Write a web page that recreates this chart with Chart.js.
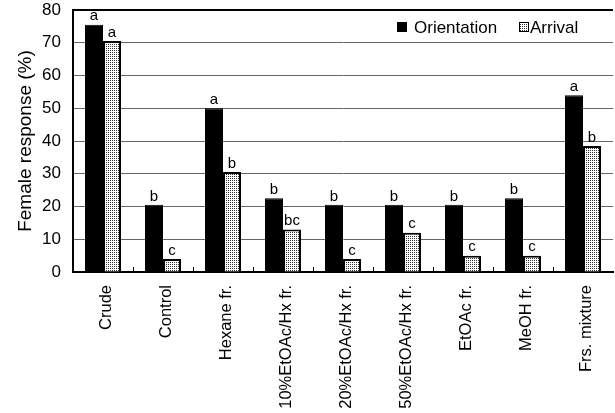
<!DOCTYPE html>
<html>
<head>
<meta charset="utf-8">
<script src="https://cdn.jsdelivr.net/npm/chart.js@4/dist/chart.umd.min.js"></script>
<style>
  html, body { margin: 0; padding: 0; background: #fff; }
  #wrap { width: 615px; height: 413px; }
</style>
</head>
<body>
<div id="wrap"><canvas id="c" width="615" height="413"></canvas></div>
<script>
// Treatments tested
const categories = ['Crude', 'Control', 'Hexane fr.', '10%EtOAc/Hx fr.', '20%EtOAc/Hx fr.',
  '50%EtOAc/Hx fr.', 'EtOAc fr.', 'MeOH fr.', 'Frs. mixture'];
// Female response (%)
const orientation = [75.5, 20.5, 50, 22.5, 20.5, 20.5, 20.5, 22.5, 54];
const arrival = [70.5, 4, 30.5, 13, 4, 12, 5, 5, 38.5];
// Significance letters
const orientationLetters = ['a', 'b', 'a', 'b', 'b', 'b', 'b', 'b', 'a'];
const arrivalLetters = ['a', 'c', 'b', 'bc', 'c', 'c', 'c', 'c', 'b'];
const yTicks = [0, 10, 20, 30, 40, 50, 60, 70, 80];

const FONT = '"Liberation Sans", Arial, sans-serif';

// fine stipple fill for the second series
function dotPattern(ctx) {
  const t = document.createElement('canvas');
  t.width = 2; t.height = 2;
  const g = t.getContext('2d');
  g.fillStyle = '#fff';
  g.fillRect(0, 0, 2, 2);
  g.fillStyle = '#333';
  g.fillRect(0, 0, 1, 1);
  return ctx.createPattern(t, 'repeat');
}
const ctx0 = document.getElementById('c').getContext('2d');
const dots = dotPattern(ctx0);

// letters above bars, inward category ticks and the legend box
const extras = {
  id: 'extras',
  afterDatasetsDraw(chart) {
    const ctx = chart.ctx;
    const area = chart.chartArea;
    ctx.save();
    ctx.font = '15px ' + FONT;
    ctx.fillStyle = '#000';
    ctx.textAlign = 'center';
    ctx.textBaseline = 'bottom';
    [orientationLetters, arrivalLetters].forEach((letters, di) => {
      chart.getDatasetMeta(di).data.forEach((bar, i) => {
        ctx.fillText(letters[i], bar.x, bar.y - 1);
      });
    });

    const xs = chart.scales.x;
    ctx.strokeStyle = '#000';
    ctx.lineWidth = 1;
    for (let i = 1; i < categories.length; i++) {
      const px = Math.round((xs.getPixelForValue(i - 1) + xs.getPixelForValue(i)) / 2) + 0.5;
      ctx.beginPath();
      ctx.moveTo(px, area.bottom);
      ctx.lineTo(px, area.bottom - 5);
      ctx.stroke();
    }

    // legend, top right inside the plot
    const names = chart.data.datasets.map(d => d.label);
    ctx.font = '17px ' + FONT;
    ctx.textAlign = 'left';
    ctx.textBaseline = 'middle';
    const ly = area.top + 17;
    let lx = 397;
    ctx.fillStyle = '#000';
    ctx.fillRect(lx, ly - 5, 10, 10);
    ctx.fillText(names[0], lx + 17, ly + 1);
    lx = 519;
    ctx.fillStyle = dots;
    ctx.fillRect(lx, ly - 5, 10, 10);
    ctx.strokeRect(lx + 0.5, ly - 4.5, 9, 9);
    ctx.fillStyle = '#000';
    ctx.fillText(names[1], lx + 11, ly + 1);
    ctx.restore();
  }
};

new Chart(ctx0, {
  type: 'bar',
  data: {
    labels: categories,
    datasets: [
      {
        label: 'Orientation',
        data: orientation,
        backgroundColor: '#000',
        borderColor: '#000',
        borderWidth: 1,
        categoryPercentage: 0.6,
        barPercentage: 1.0
      },
      {
        label: 'Arrival',
        data: arrival,
        backgroundColor: dots,
        borderColor: '#000',
        borderWidth: 2,
        borderSkipped: 'bottom',
        categoryPercentage: 0.6,
        barPercentage: 1.0
      }
    ]
  },
  options: {
    responsive: false,
    animation: false,
    layout: { padding: { top: 10, right: 2, left: 0, bottom: 0 } },
    plugins: {
      legend: { display: false },
      tooltip: { enabled: false }
    },
    scales: {
      x: {
        grid: { display: false },
        border: { display: true, color: '#000', width: 2 },
        ticks: {
          color: '#000',
          font: { family: FONT, size: 16.5 },
          minRotation: 90,
          maxRotation: 90,
          autoSkip: false,
          padding: 5,
          labelOffset: 3
        },
        afterFit(s) {
          s.height = 141;
          s.paddingLeft = 0;
          s.paddingRight = 0;
        }
      },
      y: {
        min: 0,
        max: 80,
        afterBuildTicks(s) { s.ticks = yTicks.map(v => ({ value: v })); },
        grid: {
          color: c => (c.tick && c.tick.value === 80) ? '#000' : '#666',
          lineWidth: c => (c.tick && c.tick.value === 80) ? 2 : 1,
          drawTicks: false
        },
        border: { display: true, color: '#000', width: 2 },
        ticks: {
          color: '#000',
          font: { family: FONT, size: 17 },
          padding: 12
        },
        title: {
          display: true,
          text: 'Female response (%)',
          color: '#000',
          font: { family: FONT, size: 19 },
          padding: { top: 14, bottom: 0 }
        },
        afterFit(s) {
          s.width = 73;
          s.paddingTop = 0;
          s.paddingBottom = 0;
        }
      }
    }
  },
  plugins: [extras]
});
</script>
</body>
</html>
